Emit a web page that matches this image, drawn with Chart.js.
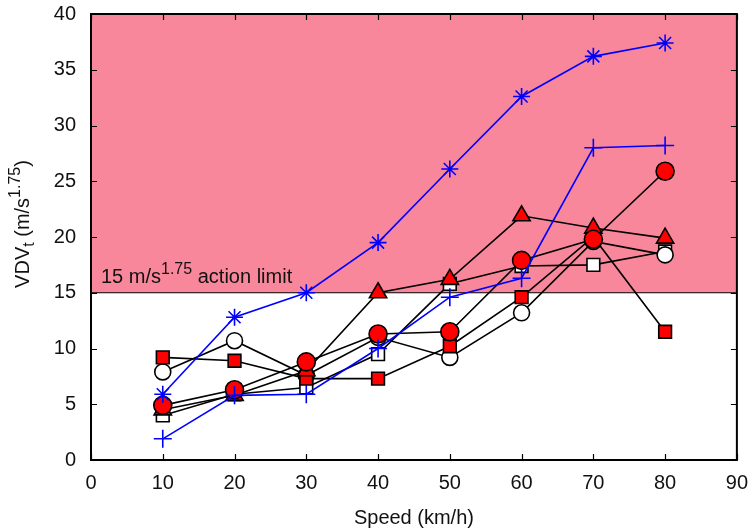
<!DOCTYPE html>
<html><head><meta charset="utf-8">
<script src="https://cdn.jsdelivr.net/npm/chart.js@4.4.1/dist/chart.umd.min.js"></script>
<style>html,body{margin:0;padding:0;background:#fff}#wrap{width:749px;height:530px}</style>
</head><body><div id="wrap"><canvas id="c" width="749" height="530"></canvas></div>
<script>
const speeds = [10, 20, 30, 40, 50, 60, 70, 80];
const xTicks = [0, 10, 20, 30, 40, 50, 60, 70, 80, 90];
const yTicks = [0, 5, 10, 15, 20, 25, 30, 35, 40];
const limitValue = 15;
const openSquare = [4.0, 5.9, 6.5, 9.5, 15.8, 17.4, 17.5, 18.7];
const openCircle = [7.9, 10.7, 7.6, 11.0, 9.2, 13.2, 19.6, 18.4];
const redSquare  = [9.2, 8.9, 7.3, 7.3, 10.2, 14.6, 20.0, 11.5];
const redTriangle= [4.5, 5.8, 8.0, 15.0, 16.2, 21.9, 20.8, 19.9];
const redCircle  = [4.9, 6.3, 8.8, 11.3, 11.5, 17.9, 19.8, 25.9];
const bluePlus   = [1.9, 5.8, 5.9, 10.0, 14.6, 16.3, 28.0, 28.2];
const blueStar   = [5.9, 12.8, 15.0, 19.5, 26.1, 32.6, 36.2, 37.4];

const FONT = '"Liberation Sans", Arial, sans-serif';
const FS = 20;
const SUP = 0.8;
const pts = arr => arr.map((v, i) => ({x: speeds[i], y: v}));

function ds(data, style, fill, border, radius, line) {
  return {data: pts(data), pointStyle: style, backgroundColor: fill, pointBackgroundColor: fill,
    pointBorderColor: border, borderColor: line, borderWidth: 1.6, pointBorderWidth: 1.6,
    pointRadius: radius, pointHoverRadius: radius, tension: 0, fill: false};
}

function richWidth(ctx, parts, size) {
  let w = 0;
  for (const p of parts) { ctx.font = (p.s ? size * SUP : size) + 'px ' + FONT; w += ctx.measureText(p.t).width; }
  return w;
}
function drawRich(ctx, parts, x, y, size) {
  let cx = x;
  ctx.textBaseline = 'alphabetic';
  ctx.textAlign = 'left';
  for (const p of parts) {
    ctx.font = (p.s ? size * SUP : size) + 'px ' + FONT;
    const dy = p.s === 'sup' ? -size * 0.45 : p.s === 'sub' ? size * 0.25 : 0;
    ctx.fillText(p.t, cx, y + dy);
    cx += ctx.measureText(p.t).width;
  }
}

const deco = {
  id: 'deco',
  beforeDatasetsDraw(chart) {
    const {ctx, chartArea: a, scales: {x, y}} = chart;
    const yl = y.getPixelForValue(limitValue);
    ctx.save();
    ctx.fillStyle = '#F9879B';
    ctx.fillRect(a.left, a.top, a.right - a.left, yl - a.top);
    ctx.strokeStyle = '#000';
    ctx.lineWidth = 1.2;
    ctx.beginPath(); ctx.moveTo(a.left, yl); ctx.lineTo(a.right, yl); ctx.stroke();
    ctx.lineWidth = 2;
    ctx.strokeRect(a.left, a.top, a.right - a.left, a.bottom - a.top);
    ctx.lineWidth = 1.2;
    ctx.beginPath();
    for (const t of xTicks) {
      const px = Math.round(x.getPixelForValue(t)) + 0.5;
      ctx.moveTo(px, a.bottom); ctx.lineTo(px, a.bottom - 6);
      ctx.moveTo(px, a.top); ctx.lineTo(px, a.top + 6);
    }
    for (const t of yTicks) {
      const py = Math.round(y.getPixelForValue(t)) + 0.5;
      ctx.moveTo(a.left, py); ctx.lineTo(a.left + 6, py);
      ctx.moveTo(a.right, py); ctx.lineTo(a.right - 6, py);
    }
    ctx.stroke();
    ctx.fillStyle = '#111';
    drawRich(ctx, [{t: '15 m/s'}, {t: '1.75', s: 'sup'}, {t: ' action limit'}], a.left + 10, yl - 10, FS);
    ctx.restore();
  },
  afterDraw(chart) {
    const {ctx} = chart;
    ctx.save();
    ctx.fillStyle = '#111';
    const parts = [{t: 'VDV'}, {t: 't', s: 'sub'}, {t: ' (m/s'}, {t: '1.75', s: 'sup'}, {t: ')'}];
    const w = richWidth(ctx, parts, FS);
    ctx.translate(29, 224);
    ctx.rotate(-Math.PI / 2);
    drawRich(ctx, parts, -w / 2, 0, FS);
    ctx.restore();
  }
};

const hiddenGrid = len => ({display: true, drawOnChartArea: false, drawTicks: true, tickLength: len, color: 'rgba(0,0,0,0)'});

new Chart(document.getElementById('c'), {
  type: 'line',
  data: {datasets: [
    ds(blueStar, 'star', '#00f', '#00f', 8.5, '#00f'),
    ds(bluePlus, 'cross', '#00f', '#00f', 9, '#00f'),
    ds(redCircle, 'circle', '#f00', '#000', 9, '#000'),
    ds(redTriangle, 'triangle', '#f00', '#000', 10, '#000'),
    ds(redSquare, 'rect', '#f00', '#000', 9, '#000'),
    ds(openCircle, 'circle', '#fff', '#000', 8, '#000'),
    ds(openSquare, 'rect', '#fff', '#000', 9, '#000')
  ]},
  options: {
    responsive: false, animation: false, devicePixelRatio: 1,
    layout: {padding: {left: 0, right: 11, top: 14, bottom: 0}},
    plugins: {legend: {display: false}, tooltip: {enabled: false}},
    scales: {
      x: {type: 'linear', min: 0, max: 90,
        afterBuildTicks: s => { s.ticks = xTicks.map(v => ({value: v})); },
        afterFit: s => { s.height = 70; },
        grid: hiddenGrid(10), border: {display: false},
        ticks: {color: '#111', padding: 1, font: {family: FONT, size: FS}},
        title: {display: true, text: 'Speed (km/h)', color: '#111', font: {family: FONT, size: FS}, padding: {top: 2, bottom: 0}}},
      y: {type: 'linear', min: 0, max: 40,
        afterBuildTicks: s => { s.ticks = yTicks.map(v => ({value: v})); },
        afterFit: s => { s.width = 91; },
        grid: hiddenGrid(14), border: {display: false},
        ticks: {color: '#111', padding: 1, font: {family: FONT, size: FS}}}
    }
  },
  plugins: [deco]
});
</script></body></html>
